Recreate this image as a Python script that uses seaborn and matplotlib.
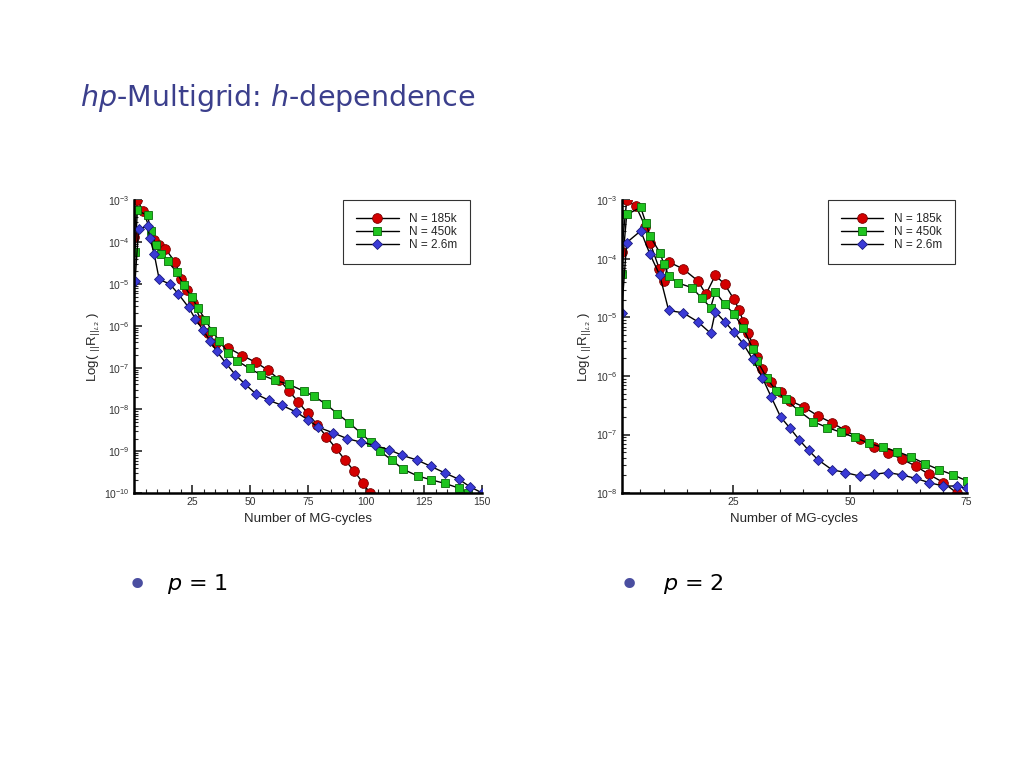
import matplotlib
matplotlib.use("Agg")
import matplotlib.pyplot as plt
import matplotlib.ticker as mticker
import numpy as np
import pandas as pd
import seaborn as sns

# residual histories (log10 of ||R||_L2)
# p = 1
p1_185k_x = [0, 1.4, 3.9, 8.6, 10.8, 13.4, 17.7, 20.4, 22.6, 25.5, 28.8, 31.7, 35.3, 40.6, 46.6,
             52.3, 57.7, 62.6, 66.7, 70.7, 74.7, 78.8, 82.8, 86.8, 90.7, 94.7, 98.8, 101.5]
p1_185k_y = [-3.87, -3.00, -3.26, -3.95, -4.06, -4.15, -4.48, -4.87, -5.14, -5.46, -5.86, -6.17, -6.41,
             -6.53, -6.71, -6.87, -7.06, -7.29, -7.56, -7.82, -8.09, -8.36, -8.65, -8.92, -9.20, -9.47,
             -9.77, -10.0]
p1_450k_x = [0.4, 1.4, 5.8, 7.2, 9.4, 11.5, 14.4, 18.4, 21.3, 24.8, 27.6, 30.7, 33.5, 36.7, 40.6, 44.3,
             49.7, 54.7, 60.6, 66.7, 73.0, 77.7, 82.8, 87.5, 92.6, 97.6, 101.9, 105.8, 110.9, 115.9,
             122.1, 127.8, 133.9, 139.9, 144.0]
p1_450k_y = [-4.23, -3.24, -3.36, -3.74, -4.07, -4.27, -4.45, -4.72, -5.02, -5.32, -5.58, -5.86, -6.12,
             -6.36, -6.65, -6.83, -7.02, -7.17, -7.30, -7.40, -7.56, -7.69, -7.88, -8.10, -8.32, -8.56,
             -8.78, -8.99, -9.21, -9.43, -9.59, -9.68, -9.77, -9.88, -10.0]
p1_26m_x = [0.4, 1.9, 5.8, 6.8, 8.6, 10.8, 15.4, 19.1, 23.5, 26.3, 29.8, 32.7, 35.6, 39.6, 43.6, 47.7,
            52.5, 58.0, 63.6, 69.8, 74.9, 79.2, 85.7, 91.9, 97.6, 103.7, 109.7, 115.6, 121.9, 127.8,
            133.9, 139.9, 144.7, 150.0]
p1_26m_y = [-4.92, -3.69, -3.61, -3.91, -4.27, -4.89, -5.00, -5.24, -5.56, -5.83, -6.11, -6.36, -6.61,
            -6.90, -7.17, -7.39, -7.63, -7.78, -7.90, -8.06, -8.25, -8.42, -8.56, -8.70, -8.78, -8.86,
            -8.96, -9.10, -9.21, -9.36, -9.52, -9.67, -9.85, -10.0]

# p = 2
p2_185k_x = [1, 2.1, 4.1, 6.1, 7.1, 9.1, 10.1, 11.1, 14.2, 17.3, 19.1, 21.1, 23.1, 25.1, 26.2, 27.1,
             28.1, 29.1, 30.1, 31.2, 33.1, 35.1, 37.1, 40.1, 43.1, 46.1, 49.0, 52.1, 55.1, 58.1, 61.1,
             64.1, 66.9, 70.0, 72.9]
p2_185k_y = [-3.88, -3.00, -3.10, -3.45, -3.72, -4.17, -4.37, -4.05, -4.17, -4.37, -4.60, -4.28, -4.43,
             -4.69, -4.87, -5.07, -5.26, -5.45, -5.68, -5.88, -6.11, -6.28, -6.42, -6.53, -6.68, -6.80,
             -6.93, -7.07, -7.22, -7.31, -7.42, -7.54, -7.68, -7.82, -8.00]
p2_450k_x = [1, 2.1, 5.1, 6.2, 7.1, 9.2, 10.1, 11.1, 13.1, 16.1, 18.2, 20.1, 21.1, 23.1, 25.1, 27.1,
             29.1, 30.1, 32.1, 34.1, 36.2, 39.1, 42.1, 45.1, 48.0, 51.0, 54.1, 57.0, 60.1, 63.0, 66.1,
             69.1, 72.1, 75.0]
p2_450k_y = [-4.25, -3.24, -3.12, -3.38, -3.61, -3.89, -4.09, -4.29, -4.41, -4.49, -4.67, -4.83, -4.56,
             -4.77, -4.94, -5.18, -5.53, -5.74, -6.03, -6.25, -6.40, -6.60, -6.78, -6.88, -6.96, -7.05,
             -7.15, -7.22, -7.29, -7.38, -7.50, -7.60, -7.69, -7.79]
p2_26m_x = [1, 2.1, 5.1, 7.1, 9.2, 11.1, 14.2, 17.3, 20.1, 21.1, 23.1, 25.1, 27.1, 29.1, 31.2, 33.1,
            35.1, 37.1, 39.1, 41.1, 43.1, 46.1, 49.0, 52.1, 55.1, 58.1, 61.1, 64.1, 66.9, 70.0, 72.9, 75.0]
p2_26m_y = [-4.92, -3.72, -3.52, -3.92, -4.28, -4.88, -4.92, -5.07, -5.27, -4.90, -5.07, -5.25, -5.45,
            -5.71, -6.03, -6.36, -6.70, -6.89, -7.09, -7.27, -7.43, -7.60, -7.65, -7.71, -7.68, -7.65,
            -7.69, -7.75, -7.82, -7.88, -7.88, -7.92]

labels = ["N = 185k", "N = 450k", "N = 2.6m"]
markers = ["o", "s", "D"]
face = ["#d40000", "#1fc41f", "#3a3ad6"]
edge = ["#7a0000", "#0a6a0a", "#1a1a80"]
msize = [7, 5.5, 5.5]

sns.set_style("white")
plt.rcParams["font.family"] = ["DejaVu Sans"]
plt.rcParams["mathtext.fontset"] = "dejavusans"

fig = plt.figure(figsize=(10.24, 7.68), dpi=100)
title_col = "#3b3f8c"
fig.text(0.078, 0.872, "$\\mathit{hp}$-Multigrid: $\\mathit{h}$-dependence", fontsize=20.5,
         color=title_col, ha="left", va="center")


def panel(ax, series, xmax, xstart, ymin, xticks):
    for i, (xs, ys) in enumerate(series):
        df = pd.DataFrame({"x": xs, "y": 10.0 ** np.array(ys)})
        sns.lineplot(data=df, x="x", y="y", ax=ax, color="black", lw=1.0, estimator=None,
                     marker=markers[i], markersize=msize[i], markerfacecolor=face[i],
                     markeredgecolor=edge[i], markeredgewidth=0.6, label=labels[i])
    ax.set_yscale("log")
    ax.set_ylim(ymin, 1e-3)
    ax.set_xlim(xstart, xmax)
    ax.set_xticks(xticks)
    ax.xaxis.set_minor_locator(mticker.MultipleLocator(5))
    ax.yaxis.set_major_locator(mticker.LogLocator(base=10, numticks=20))
    ax.yaxis.set_minor_locator(mticker.LogLocator(base=10, subs=np.arange(2, 10), numticks=20))
    ax.yaxis.set_minor_formatter(mticker.NullFormatter())
    for s in ["top", "right"]:
        ax.spines[s].set_visible(False)
    for s in ["left", "bottom"]:
        ax.spines[s].set_linewidth(1.8)
        ax.spines[s].set_color("black")
    ax.tick_params(which="major", direction="in", length=6, width=1.2, labelsize=7.5,
                   left=True, bottom=True, pad=3)
    ax.tick_params(which="minor", direction="in", length=3, width=0.8, left=True, bottom=True)
    ax.set_xlabel("Number of MG-cycles", fontsize=9.5, family=["Liberation Sans"])
    ax.set_ylabel("Log( $_{||}$R$_{||_{L2}}$ )", fontsize=9.5, family=["Liberation Sans"], labelpad=2)
    for t in ax.get_xticklabels() + ax.get_yticklabels():
        t.set_family(["Liberation Sans"])
        t.set_color("#333333")
    leg = ax.legend(loc="upper right", frameon=True, fancybox=False,
                    edgecolor="black", handlelength=3.6, borderpad=1.1, labelspacing=0.1,
                    handletextpad=0.9, bbox_to_anchor=(0.983, 1.022),
                    prop={"family": "Liberation Sans", "size": 8.5})
    leg.get_frame().set_linewidth(0.8)


ax1 = fig.add_axes([0.131, 0.358, 0.340, 0.381])
panel(ax1, [(p1_185k_x, p1_185k_y), (p1_450k_x, p1_450k_y), (p1_26m_x, p1_26m_y)],
      150, 0, 1e-10, [25, 50, 75, 100, 125, 150])

ax2 = fig.add_axes([0.607, 0.358, 0.337, 0.381])
panel(ax2, [(p2_185k_x, p2_185k_y), (p2_450k_x, p2_450k_y), (p2_26m_x, p2_26m_y)],
      75, 1, 1e-8, [25, 50, 75])

bullet_col = "#4a4ea0"
fig.text(0.124, 0.237, "\u2022", fontsize=26, color=bullet_col, va="center")
fig.text(0.163, 0.240, "$\\mathit{p}$ = 1", fontsize=16, color="black", va="center")
fig.text(0.604, 0.237, "\u2022", fontsize=26, color=bullet_col, va="center")
fig.text(0.647, 0.240, "$\\mathit{p}$ = 2", fontsize=16, color="black", va="center")

fig.savefig("out.png", dpi=100, facecolor="white")
